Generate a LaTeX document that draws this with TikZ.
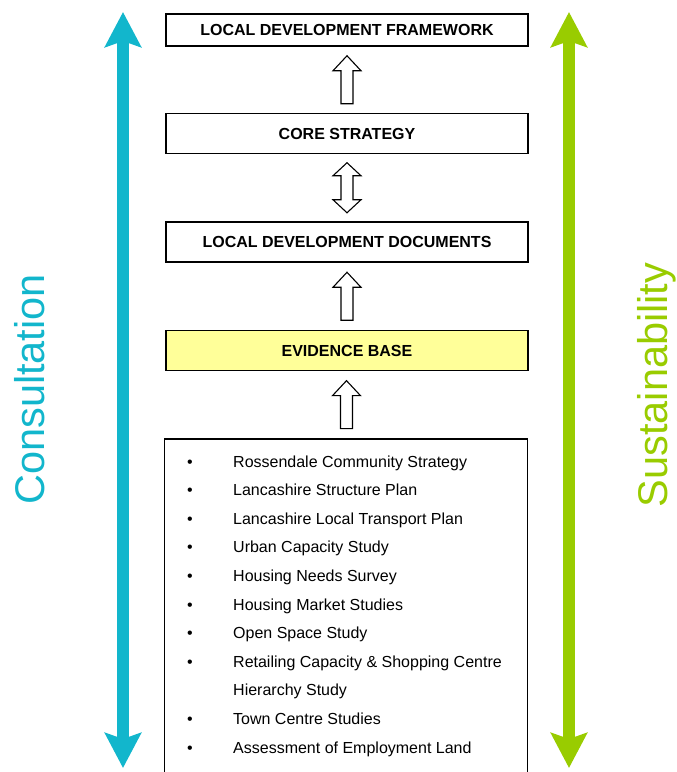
\documentclass[tikz,border=0pt]{standalone}
\usepackage{fontspec}
\setmainfont{Liberation Sans}
\usetikzlibrary{arrows.meta,calc}
\definecolor{cyanarr}{RGB}{18,182,204}
\definecolor{greenarr}{RGB}{153,204,0}
\definecolor{evid}{RGB}{255,255,153}
\tikzset{
  box/.style={draw=black, line width=1.6pt, fill=white, minimum width=362pt, inner sep=0pt,
    font=\fontsize{16}{18}\selectfont\bfseries},
  hollowline/.style={draw=black, line width=1.1pt, fill=white, line join=miter},
  bigarrow/.style={line width=12pt, {Stealth[width=36pt,length=35pt,inset=6pt]}-{Stealth[width=36pt,length=35pt,inset=6pt]}},
  listtext/.style={anchor=base west, inner sep=0pt, font=\fontsize{16}{19}\selectfont},
  bullet/.style={anchor=base, inner sep=0pt, font=\fontsize{16}{19}\selectfont},
  sidetext/.style={rotate=90, anchor=base, inner sep=0pt, font=\fontsize{41.5}{48}\selectfont},
  uparrowpic/.pic={\draw[hollowline] (0,-24) -- (14,-9) -- (6,-9) -- (6,24) -- (-6,24) -- (-6,-9) -- (-14,-9) -- cycle;},
  dblarrowpic/.pic={\draw[hollowline] (0,-25) -- (14,-12) -- (6,-12) -- (6,12) -- (14,12) -- (0,25) -- (-14,12) -- (-6,12) -- (-6,-12) -- (-14,-12) -- cycle;}
}
\begin{document}
\begin{tikzpicture}[x=1pt,y=-1pt]
\useasboundingbox (0,0) rectangle (677,772);
\clip (0,0) rectangle (677,772);

% side arrows
\coordinate (ctop) at (123,12);
\coordinate (cbot) at (123,768);
\coordinate (gtop) at (569,12);
\coordinate (gbot) at (569,768);
\draw[bigarrow, cyanarr] (ctop) -- (cbot);
\draw[bigarrow, greenarr] (gtop) -- (gbot);

\node[sidetext, text=cyanarr] (cons) at (45,389.5) {Consultation};
\node[sidetext, text=greenarr] (sust) at (667.5,385) {Sustainability};

% boxes
\node[box, minimum height=32pt] (ldf) at (347,30) {LOCAL DEVELOPMENT FRAMEWORK};
\node[box, minimum height=40pt] (cs) at (347,133.5) {CORE STRATEGY};
\node[box, minimum height=40pt] (ldd) at (347,242) {LOCAL DEVELOPMENT DOCUMENTS};
\node[box, minimum height=40pt, fill=evid] (eb) at (347,350.5) {EVIDENCE BASE};
\node[draw=black, line width=1.6pt, minimum width=363pt, minimum height=360pt, inner sep=0pt, anchor=north] (list) at (346,438) {};

% hollow arrows
\path (ldf.south) -- (cs.north) coordinate[pos=0.5] (m1);
\path (cs.south) -- (ldd.north) coordinate[pos=0.5] (m2);
\path (ldd.south) -- (eb.north) coordinate[pos=0.5] (m3);
\path (eb.south) -- (list.north) coordinate[pos=0.5] (m4);
\pic at (m1) {uparrowpic};
\pic at (m2) {dblarrowpic};
\pic at (m3) {uparrowpic};
\pic at (m4) {uparrowpic};

% list
\foreach \t [count=\i from 0] in {Rossendale Community Strategy,Lancashire Structure Plan,Lancashire Local Transport Plan,Urban Capacity Study,Housing Needs Survey,Housing Market Studies,Open Space Study,Retailing Capacity \& Shopping Centre}{
  \node[bullet] (b\i) at (190,467+28.6*\i) {•};
  \node[listtext] (t\i) at (233,467+28.6*\i) {\t};
}
\node[listtext] (t8) at (233,467+28.6*8) {Hierarchy Study};
\node[bullet] (b9) at (190,467+28.6*9) {•};
\node[listtext] (t9) at (233,467+28.6*9) {Town Centre Studies};
\node[bullet] (b10) at (190,467+28.6*10) {•};
\node[listtext] (t10) at (233,467+28.6*10) {Assessment of Employment Land};
\end{tikzpicture}
\end{document}
